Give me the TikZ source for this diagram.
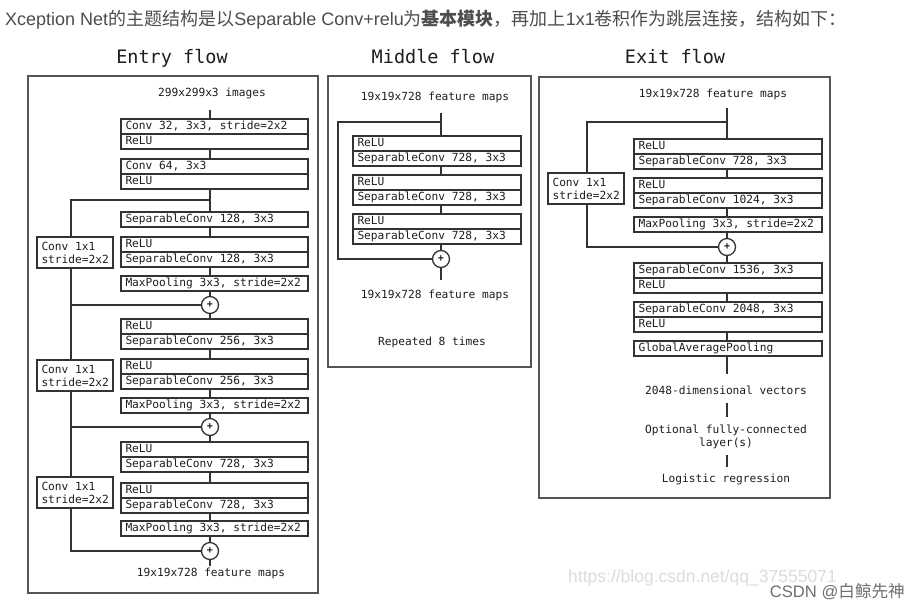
\documentclass[tikz,border=0pt]{standalone}
\usepackage{fontspec}
\setmainfont{Liberation Sans}
\setmonofont{DejaVu Sans Mono}
\newfontfamily\cjk{Noto Sans CJK SC}
\usetikzlibrary{positioning}

\definecolor{hdr}{HTML}{4D4D4D}
\definecolor{ink}{HTML}{1E1E1E}
\definecolor{edge}{HTML}{333333}
\definecolor{frame}{HTML}{555555}
\definecolor{wmlight}{HTML}{DCDCDC}
\definecolor{wmdark}{HTML}{6E6E6E}

\newcommand{\boxfont}{\fontsize{11.2}{13}\selectfont\ttfamily}
\newcommand{\titlefont}{\fontsize{18.5}{20}\selectfont\ttfamily}

\tikzset{
    fullspace/.style={execute at begin node={\spaceskip=.602em\xspaceskip=.602em\relax}},
    layer/.style={draw=edge, line width=1.3pt, outer sep=0pt, anchor=north west,
        minimum height=15pt, inner xsep=4.5pt, inner ysep=0pt, text width=#1,
        text height=8.5pt, text depth=2.5pt, align=left, font=\boxfont, text=ink, fullspace},
    skipbox/.style={draw=edge, line width=1.3pt, outer sep=0pt, anchor=north west,
        minimum height=31pt, inner xsep=4.5pt, text width=67pt, align=left,
        font=\boxfont, text=ink, fullspace},
    wire/.style={draw=edge, line width=1.3pt},
    plus/.style={draw=edge, line width=1.3pt, circle, minimum size=17pt, inner sep=0pt,
        font=\fontsize{10}{10}\selectfont\ttfamily\bfseries, text=ink},
    lbl/.style={font=\boxfont, text=ink, inner sep=0pt, text height=8.5pt, text depth=2.5pt},
    panel/.style={draw=frame, line width=1.3pt},
    head/.style={font=\titlefont, text=ink, inner sep=0pt},
}

\begin{document}
\begin{tikzpicture}[x=1pt, y=-1pt]
    \fill[white] (0,0) rectangle (920,611);
    \useasboundingbox (0,0) rectangle (920,611);

    % caption line above the figure
    \node[anchor=west, inner sep=0pt, text=hdr, font=\fontsize{18}{21}\selectfont] (hdr) at (5,20)
        {Xception Net{\cjk 的主题结构是以}Separable Conv+relu{\cjk 为\textbf{基本模块}，再加上}1x1{\cjk 卷积作为跳层连接，结构如下：}};

    % panels
    \draw[panel] (28,76) rectangle (318,593);   % entry
    \draw[panel] (328,76) rectangle (531,367);  % middle
    \draw[panel] (539,77) rectangle (830,498);  % exit
    \node[head] at (172,58) {Entry flow};
    \node[head] at (433,57) {Middle flow};
    \node[head] at (675,57) {Exit flow};

    %% Entry flow
    \coordinate (es) at (210,0);   % main line
    \coordinate (eks) at (71,0);   % skip line
    \node[lbl] (ein) at (212,93) {299x299x3 images};
    \node[layer=178pt] (e1a) at (121,119) {Conv 32, 3x3, stride=2x2};
    \node[layer=178pt, below=0pt of e1a] (e1b) {ReLU};
    \node[layer=178pt] (e2a) at (121,159) {Conv 64, 3x3};
    \node[layer=178pt, below=0pt of e2a] (e2b) {ReLU};
    \coordinate (ej1) at (210,200);
    \node[layer=178pt] (e3) at (121,212) {SeparableConv 128, 3x3};
    \node[layer=178pt] (e4a) at (121,237) {ReLU};
    \node[layer=178pt, below=0pt of e4a] (e4b) {SeparableConv 128, 3x3};
    \node[layer=178pt] (e5) at (121,276) {MaxPooling 3x3, stride=2x2};
    \node[plus] (ep1) at (210,305) {+};
    \node[layer=178pt] (e6a) at (121,319) {ReLU};
    \node[layer=178pt, below=0pt of e6a] (e6b) {SeparableConv 256, 3x3};
    \node[layer=178pt] (e7a) at (121,359) {ReLU};
    \node[layer=178pt, below=0pt of e7a] (e7b) {SeparableConv 256, 3x3};
    \node[layer=178pt] (e8) at (121,398) {MaxPooling 3x3, stride=2x2};
    \node[plus] (ep2) at (210,427) {+};
    \node[layer=178pt] (e9a) at (121,442) {ReLU};
    \node[layer=178pt, below=0pt of e9a] (e9b) {SeparableConv 728, 3x3};
    \node[layer=178pt] (e10a) at (121,483) {ReLU};
    \node[layer=178pt, below=0pt of e10a] (e10b) {SeparableConv 728, 3x3};
    \node[layer=178pt] (e11) at (121,521) {MaxPooling 3x3, stride=2x2};
    \node[plus] (ep3) at (210,551) {+};
    \node[lbl] (eout) at (211,573) {19x19x728 feature maps};
    \node[skipbox] (ek1) at (37,237) {Conv 1x1\\stride=2x2};
    \node[skipbox] (ek2) at (37,360) {Conv 1x1\\stride=2x2};
    \node[skipbox] (ek3) at (37,477) {Conv 1x1\\stride=2x2};

    \draw[wire, shorten <=11.5pt] (ein.south -| es) -- (e1a.north -| es);
    \foreach \a/\b in {e1b/e2a, e2b/e3, e3/e4a, e4b/e5, e6b/e7a, e7b/e8, e9b/e10a, e10b/e11}
        \draw[wire] (\a.south -| es) -- (\b.north -| es);
    \foreach \a/\p/\b in {e5/ep1/e6a, e8/ep2/e9a}
        \draw[wire] (\a.south -| es) -- (\p) -- (\b.north -| es);
    \draw[wire] (e11.south -| es) -- (ep3);
    \draw[wire, shorten >=1.5pt] (ep3) -- (eout.north -| es);
    % shortcuts
    \draw[wire] (ej1) -| (ek1.north -| eks);
    \draw[wire] (ek1.south -| eks) |- (ep1);
    \draw[wire] (ep1) -| (ek2.north -| eks);
    \draw[wire] (ek2.south -| eks) |- (ep2);
    \draw[wire] (ep2) -| (ek3.north -| eks);
    \draw[wire] (ek3.south -| eks) |- (ep3);

    %% Middle flow
    \coordinate (ms) at (441,0);
    \node[lbl] (min) at (435,97) {19x19x728 feature maps};
    \coordinate (mj) at (441,122);
    \coordinate (mk) at (338,190);
    \node[layer=159pt] (m1a) at (353,136) {ReLU};
    \node[layer=159pt, below=0pt of m1a] (m1b) {SeparableConv 728, 3x3};
    \node[layer=159pt] (m2a) at (353,175) {ReLU};
    \node[layer=159pt, below=0pt of m2a] (m2b) {SeparableConv 728, 3x3};
    \node[layer=159pt] (m3a) at (353,214) {ReLU};
    \node[layer=159pt, below=0pt of m3a] (m3b) {SeparableConv 728, 3x3};
    \node[plus] (mp) at (441,259) {+};
    \node[lbl] (mout) at (435,295) {19x19x728 feature maps};
    \node[lbl] (mrep) at (432,342) {Repeated 8 times};

    \draw[wire, shorten <=10.5pt] (min.south -| ms) -- (m1a.north -| ms);
    \draw[wire] (m1b.south -| ms) -- (m2a.north -| ms);
    \draw[wire] (m2b.south -| ms) -- (m3a.north -| ms);
    \draw[wire] (m3b.south -| ms) -- (mp);
    \draw[wire, shorten >=9.5pt] (mp) -- (mout.north -| ms);
    \draw[wire] (mj) -| (mk) |- (mp);

    %% Exit flow
    \coordinate (xs) at (727,0);
    \coordinate (xks) at (587,0);
    \node[lbl] (xin) at (713,94) {19x19x728 feature maps};
    \coordinate (xj) at (727,122);
    \node[layer=179pt] (x1a) at (634,139) {ReLU};
    \node[layer=179pt, below=0pt of x1a] (x1b) {SeparableConv 728, 3x3};
    \node[layer=179pt] (x2a) at (634,178) {ReLU};
    \node[layer=179pt, below=0pt of x2a] (x2b) {SeparableConv 1024, 3x3};
    \node[layer=179pt] (x3) at (634,217) {MaxPooling 3x3, stride=2x2};
    \node[plus] (xp) at (727,247) {+};
    \node[layer=179pt] (x4a) at (634,263) {SeparableConv 1536, 3x3};
    \node[layer=179pt, below=0pt of x4a] (x4b) {ReLU};
    \node[layer=179pt] (x5a) at (634,302) {SeparableConv 2048, 3x3};
    \node[layer=179pt, below=0pt of x5a] (x5b) {ReLU};
    \node[layer=179pt] (x6) at (634,341) {GlobalAveragePooling};
    \node[skipbox] (xk) at (548,173) {Conv 1x1\\stride=2x2};
    \node[lbl] (xvec) at (726,391) {2048-dimensional vectors};
    \node[font=\boxfont, text=ink, inner sep=0pt, align=center] (xfc) at (726,437)
        {Optional fully-connected\\layer(s)};
    \node[lbl] (xlr) at (726,479) {Logistic regression};

    \draw[wire, shorten <=8.5pt] (xin.south -| xs) -- (x1a.north -| xs);
    \draw[wire] (x1b.south -| xs) -- (x2a.north -| xs);
    \draw[wire] (x2b.south -| xs) -- (x3.north -| xs);
    \draw[wire] (x3.south -| xs) -- (xp) -- (x4a.north -| xs);
    \draw[wire] (x4b.south -| xs) -- (x5a.north -| xs);
    \draw[wire] (x5b.south -| xs) -- (x6.north -| xs);
    \draw[wire, shorten >=11.5pt] (x6.south -| xs) -- (xvec.north -| xs);
    \draw[wire, shorten <=6.5pt, shorten >=8pt] (xvec.south -| xs) -- (xfc.north -| xs);
    \draw[wire, shorten <=6pt, shorten >=6.5pt] (xfc.south -| xs) -- (xlr.north -| xs);
    \draw[wire] (xj) -| (xk.north -| xks);
    \draw[wire] (xk.south -| xks) |- (xp);

    % watermark
    \node[anchor=west, inner sep=0pt, text=wmlight, font=\fontsize{17.5}{20}\selectfont] (wm) at (568,578)
        {https://blog.csdn.net/qq\_37555071};
    \node[anchor=east, inner sep=0pt, text=wmdark, font=\fontsize{16.6}{19}\selectfont] (tag) at (905,592)
        {CSDN @{\cjk 白鲸先神}};
\end{tikzpicture}
\end{document}
